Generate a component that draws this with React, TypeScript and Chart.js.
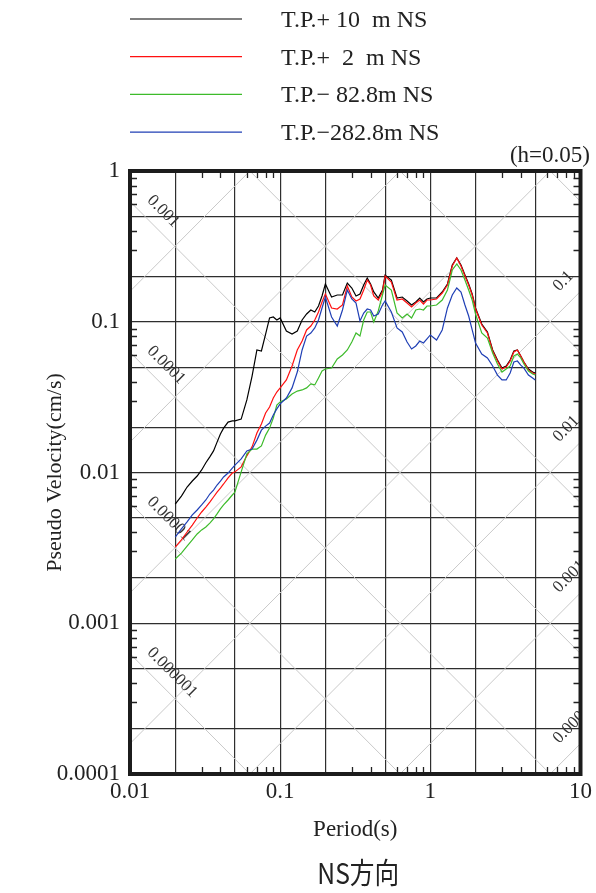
import React, { useEffect, useRef } from 'react';
import { Chart, registerables } from 'chart.js';

Chart.register(...registerables);

// ---------- data ----------
const periods = [
  0.02, 0.022, 0.024, 0.026, 0.028, 0.03, 0.032, 0.034, 0.036, 0.038, 0.04, 0.042, 0.045, 0.048, 0.05,
  0.055, 0.06, 0.065, 0.07, 0.075, 0.08, 0.085, 0.09, 0.095, 0.1,
  0.11, 0.12, 0.13, 0.14, 0.15, 0.16, 0.17, 0.18, 0.19,
  0.2, 0.22, 0.24, 0.26, 0.28, 0.3, 0.32, 0.34, 0.36, 0.38,
  0.4, 0.42, 0.45, 0.48, 0.5,
  0.55, 0.6, 0.65, 0.7, 0.75, 0.8, 0.85, 0.9, 0.95,
  1.0, 1.1, 1.2, 1.3, 1.4, 1.5, 1.6, 1.7, 1.8, 1.9,
  2.0, 2.2, 2.4, 2.6, 2.8, 3.0, 3.2, 3.4, 3.6, 3.8,
  4.0, 4.2, 4.5, 4.8, 5.0,
];

const tpPlus10 = [
  0.00618, 0.00698, 0.00801, 0.00878, 0.00948, 0.0104, 0.0116, 0.0127, 0.0139, 0.0159, 0.018, 0.0197, 0.0216, 0.022, 0.022,
  0.0226, 0.0303, 0.0436, 0.065, 0.064, 0.0829, 0.106, 0.1075, 0.1027, 0.106,
  0.0868, 0.0829, 0.0868, 0.1027, 0.1126, 0.1197, 0.1161, 0.1272, 0.1482,
  0.178, 0.1459, 0.1505, 0.1505, 0.1807, 0.1675, 0.1482, 0.1528, 0.1753, 0.1951,
  0.178, 0.1576, 0.1437, 0.1624, 0.2042,
  0.1891, 0.1437, 0.1459, 0.1373, 0.1292, 0.1352, 0.1437, 0.1352, 0.1416,
  0.1437, 0.1437, 0.1576, 0.178, 0.2379, 0.2648, 0.2379, 0.2042, 0.178, 0.1528,
  0.1234, 0.0966, 0.0855, 0.065, 0.0557, 0.0493, 0.0509, 0.0557, 0.064, 0.065,
  0.0593, 0.0541, 0.0486, 0.0464, 0.0457,
];

const tpPlus2 = [
  0.0032, 0.00357, 0.00403, 0.00448, 0.00499, 0.00547, 0.0059, 0.00637, 0.00688, 0.00742, 0.00789, 0.00839, 0.0092, 0.00992, 0.0101,
  0.0109, 0.0129, 0.0148, 0.0183, 0.021, 0.0248, 0.0272, 0.0312, 0.0342, 0.0364,
  0.0411, 0.0509, 0.065, 0.0745, 0.0882, 0.0937, 0.1027, 0.1161, 0.1352,
  0.1528, 0.1234, 0.1215, 0.1292, 0.1726, 0.1459, 0.1373, 0.1416, 0.1624, 0.1891,
  0.1753, 0.1482, 0.1394, 0.1576, 0.2011,
  0.1835, 0.1394, 0.1416, 0.1331, 0.1253, 0.1331, 0.1394, 0.1311, 0.1394,
  0.1394, 0.1416, 0.1551, 0.1753, 0.2343, 0.2648, 0.2343, 0.2011, 0.1753, 0.1505,
  0.1215, 0.0951, 0.0842, 0.064, 0.0549, 0.0486, 0.0501, 0.0549, 0.063, 0.065,
  0.0593, 0.0541, 0.0479, 0.0457, 0.045,
];

const tpMinus82 = [
  0.00267, 0.00292, 0.00325, 0.00357, 0.00391, 0.00416, 0.00435, 0.00462, 0.00492, 0.00531, 0.00573, 0.00609, 0.00657, 0.00709, 0.00742,
  0.0101, 0.0133, 0.0143, 0.0143, 0.015, 0.0177, 0.0197, 0.023, 0.028, 0.0294,
  0.0307, 0.0332, 0.0347, 0.0353, 0.0364, 0.0387, 0.0381, 0.0424, 0.0471,
  0.0486, 0.0493, 0.0566, 0.0602, 0.065, 0.0734, 0.0842, 0.0804, 0.1027, 0.1161,
  0.1161, 0.0996, 0.1178, 0.1505, 0.1753,
  0.1624, 0.1143, 0.1059, 0.1126, 0.1059, 0.1197, 0.1215, 0.1197, 0.1272,
  0.1272, 0.1292, 0.1394, 0.1624, 0.2204, 0.2416, 0.2204, 0.1891, 0.1624, 0.1394,
  0.1126, 0.0842, 0.078, 0.062, 0.0524, 0.0464, 0.0486, 0.0509, 0.0593, 0.0611,
  0.0575, 0.0524, 0.0471, 0.045, 0.0443,
];

const tpMinus282 = [
  0.00373, 0.00422, 0.0047, 0.00523, 0.00564, 0.00609, 0.00657, 0.0072, 0.00765, 0.00826, 0.00878, 0.00934, 0.00992, 0.0107, 0.0112,
  0.0123, 0.0139, 0.0143, 0.0164, 0.0191, 0.0203, 0.0213, 0.0241, 0.0264, 0.0285,
  0.0312, 0.0364, 0.0464, 0.065, 0.0804, 0.0842, 0.0909, 0.1027, 0.1234,
  0.1459, 0.1075, 0.0937, 0.1197, 0.1624, 0.1416, 0.1331, 0.1012, 0.1143, 0.1215,
  0.1197, 0.1092, 0.1126, 0.1292, 0.1373,
  0.1161, 0.0909, 0.0855, 0.0734, 0.066, 0.0691, 0.0745, 0.0723, 0.0769,
  0.0817, 0.0757, 0.0882, 0.1234, 0.1505, 0.1675, 0.1576, 0.1292, 0.1092, 0.0882,
  0.0723, 0.0611, 0.0575, 0.0509, 0.0443, 0.0411, 0.0411, 0.0457, 0.0541, 0.0549,
  0.0516, 0.0493, 0.0443, 0.0424, 0.0411,
];

const seriesLabels = ['T.P.+ 10  m NS', 'T.P.+  2  m NS', 'T.P.\u2212 82.8m NS', 'T.P.\u2212282.8m NS'];
const seriesColors = ['#000000', '#ff1010', '#3dbb2b', '#1f3fb5'];
const seriesValues = [tpPlus10, tpPlus2, tpMinus82, tpMinus282];

const xTickValues = [0.01, 0.02, 0.05, 0.1, 0.2, 0.5, 1, 2, 5, 10];
const yTickValues = [0.0001, 0.0002, 0.0005, 0.001, 0.002, 0.005, 0.01, 0.02, 0.05, 0.1, 0.2, 0.5, 1];
const xMinorTicks = [
  0.03, 0.04, 0.06, 0.07, 0.08, 0.09, 0.3, 0.4, 0.6, 0.7, 0.8, 0.9, 3, 4, 6, 7, 8, 9,
];
const yMinorTicks = [
  0.0003, 0.0004, 0.0006, 0.0007, 0.0008, 0.0009, 0.003, 0.004, 0.006, 0.007, 0.008, 0.009,
  0.03, 0.04, 0.06, 0.07, 0.08, 0.09, 0.3, 0.4, 0.6, 0.7, 0.8, 0.9,
];

// tripartite guide lines: displacement (cm) and acceleration (cm/s^2)
const dispLineValues = [1e-6, 1e-5, 1e-4, 1e-3, 1e-2, 1e-1, 1];
const accLineValues = [1e-4, 1e-3, 1e-2, 1e-1, 1, 10, 100];
const dispLabelValues = [0.001, 0.0001, 0.00001, 0.000001];
const dispLabels = ['0.001', '0.0001', '0.00001', '0.000001'];
const accLabelValues = [0.1, 0.01, 0.001, 0.0001];
const accLabels = ['0.1', '0.01', '0.001', '0.0001'];

const dampingText = '(h=0.05)';
const xTitle = 'Period(s)';
const yTitle = 'Pseudo Velocity(cm/s)';
const chartTitle = 'NS方向';

const SERIF = "'Liberation Serif', 'Times New Roman', serif";
const TEXT = '#222222';

const isDecade = (v: number) => Math.abs(Math.log10(v) - Math.round(Math.log10(v))) < 1e-9;

const overlayPlugin = {
  id: 'tripartiteOverlay',
  beforeDatasetsDraw(chart: any) {
    const { ctx, chartArea: a, scales } = chart;
    const xs = scales.x;
    const ys = scales.y;
    const TWO_PI = 2 * Math.PI;
    const tA = 0.001;
    const tB = 100;

    ctx.save();
    ctx.beginPath();
    ctx.rect(a.left, a.top, a.right - a.left, a.bottom - a.top);
    ctx.clip();

    // diagonal guide lines
    ctx.strokeStyle = '#c9c9c9';
    ctx.lineWidth = 1;
    for (const sd of dispLineValues) {
      ctx.beginPath();
      ctx.moveTo(xs.getPixelForValue(tA), ys.getPixelForValue((TWO_PI * sd) / tA));
      ctx.lineTo(xs.getPixelForValue(tB), ys.getPixelForValue((TWO_PI * sd) / tB));
      ctx.stroke();
    }
    for (const acc of accLineValues) {
      ctx.beginPath();
      ctx.moveTo(xs.getPixelForValue(tA), ys.getPixelForValue((acc * tA) / TWO_PI));
      ctx.lineTo(xs.getPixelForValue(tB), ys.getPixelForValue((acc * tB) / TWO_PI));
      ctx.stroke();
    }

    // diagonal labels
    const r = Math.SQRT1_2;
    ctx.fillStyle = '#333333';
    ctx.font = `17px ${SERIF}`;
    ctx.textBaseline = 'alphabetic';
    ctx.textAlign = 'left';
    dispLabelValues.forEach((sd, i) => {
      const px = a.left + 8;
      const t = xs.getValueForPixel(px);
      const py = ys.getPixelForValue((TWO_PI * sd) / t);
      ctx.save();
      ctx.translate(px + r * 12, py - r * 12);
      ctx.rotate(Math.PI / 4);
      ctx.fillText(dispLabels[i], 0, 0);
      ctx.restore();
    });
    accLabelValues.forEach((acc, i) => {
      const px = a.right - 11;
      const t = xs.getValueForPixel(px);
      const py = ys.getPixelForValue((acc * t) / TWO_PI);
      ctx.save();
      ctx.translate(px - r * 15, py - r * 15);
      ctx.rotate(-Math.PI / 4);
      ctx.fillText(accLabels[i], 0, 0);
      ctx.restore();
    });
    ctx.restore();

    // inner minor ticks
    ctx.save();
    ctx.strokeStyle = '#222222';
    ctx.lineWidth = 1.3;
    const len = 7;
    ctx.beginPath();
    for (const v of xMinorTicks) {
      const x = Math.round(xs.getPixelForValue(v)) + 0.5;
      ctx.moveTo(x, a.top);
      ctx.lineTo(x, a.top + len);
      ctx.moveTo(x, a.bottom);
      ctx.lineTo(x, a.bottom - len);
    }
    for (const v of yMinorTicks) {
      const y = Math.round(ys.getPixelForValue(v)) + 0.5;
      ctx.moveTo(a.left, y);
      ctx.lineTo(a.left + len, y);
      ctx.moveTo(a.right, y);
      ctx.lineTo(a.right - len, y);
    }
    ctx.stroke();
    ctx.restore();
  },
  afterDatasetsDraw(chart: any) {
    const { ctx, chartArea: a } = chart;
    ctx.save();
    ctx.strokeStyle = '#1c1c1c';
    ctx.lineWidth = 4;
    ctx.strokeRect(a.left, a.top, a.right - a.left, a.bottom - a.top);
    ctx.restore();
  },
  afterDraw(chart: any) {
    const { ctx, chartArea: a, data } = chart;
    ctx.save();
    // legend
    ctx.font = `24px ${SERIF}`;
    ctx.textAlign = 'left';
    ctx.textBaseline = 'alphabetic';
    data.datasets.forEach((ds: any, i: number) => {
      const y = 19 + i * 37.7;
      ctx.strokeStyle = ds.borderColor;
      ctx.lineWidth = 1.2;
      ctx.beginPath();
      ctx.moveTo(a.left, y);
      ctx.lineTo(a.left + 112, y);
      ctx.stroke();
      ctx.fillStyle = TEXT;
      ctx.fillText(ds.label, a.left + 151, y + 8);
    });
    // damping
    ctx.font = `23px ${SERIF}`;
    ctx.textAlign = 'right';
    ctx.fillText(dampingText, 590, a.top - 9);
    // bottom title
    ctx.font = `29px 'Noto Sans CJK JP', 'Noto Sans CJK SC', sans-serif`;
    ctx.textAlign = 'center';
    ctx.textBaseline = 'middle';
    ctx.translate((a.left + a.right) / 2 + 3, 873);
    ctx.scale(0.85, 1);
    ctx.fillText(chartTitle, 0, 0);
    ctx.restore();
  },
};

export default function App() {
  const ref = useRef<HTMLCanvasElement>(null);

  useEffect(() => {
    document.body.style.margin = '0';
    const canvas = ref.current;
    if (!canvas) return;

    const datasets = seriesValues.map((vals, i) => ({
      label: seriesLabels[i],
      data: periods.map((p, j) => ({ x: p, y: vals[j] })),
      borderColor: seriesColors[i],
      backgroundColor: seriesColors[i],
      borderWidth: 1.2,
      pointRadius: 0,
      tension: 0,
      fill: false,
      order: 4 - i,
    }));

    const chart = new Chart(canvas, {
      type: 'line',
      data: { datasets },
      options: {
        responsive: false,
        animation: false,
        devicePixelRatio: 1,
        layout: { padding: { left: 0, right: 14, top: 171, bottom: 0 } },
        plugins: {
          legend: { display: false },
          title: { display: false },
          tooltip: { enabled: false },
        },
        scales: {
          x: {
            type: 'logarithmic',
            min: 0.01,
            max: 10,
            afterBuildTicks: (scale: any) => {
              scale.ticks = xTickValues.map((v) => ({ value: v }));
            },
            afterFit: (scale: any) => {
              scale.height = 119;
            },
            ticks: {
              autoSkip: false,
              maxRotation: 0,
              minRotation: 0,
              padding: 4,
              color: TEXT,
              font: { family: SERIF, size: 23 },
              callback: (v: any) => (isDecade(Number(v)) ? String(Number(v)) : ''),
            },
            grid: { color: '#2e2e2e', lineWidth: 1.2, drawTicks: false },
            border: { display: false },
            title: {
              display: true,
              text: xTitle,
              color: TEXT,
              font: { family: SERIF, size: 23 },
              padding: { top: 0, bottom: 49 },
            },
          },
          y: {
            type: 'logarithmic',
            min: 0.0001,
            max: 1,
            afterBuildTicks: (scale: any) => {
              scale.ticks = yTickValues.map((v) => ({ value: v }));
            },
            afterFit: (scale: any) => {
              scale.width = 130;
            },
            ticks: {
              autoSkip: false,
              padding: 10,
              color: TEXT,
              font: { family: SERIF, size: 23 },
              callback: (v: any) => (isDecade(Number(v)) ? String(Number(v)) : ''),
            },
            grid: { color: '#2e2e2e', lineWidth: 1.2, drawTicks: false },
            border: { display: false },
            title: {
              display: true,
              text: yTitle,
              color: TEXT,
              font: { family: SERIF, size: 22 },
              padding: { top: 42, bottom: 0 },
            },
          },
        },
      },
      plugins: [overlayPlugin],
    } as any);

    return () => chart.destroy();
  }, []);

  return (
    <canvas
      ref={ref}
      width={596}
      height={893}
      style={{ display: 'block', width: '596px', height: '893px' }}
    />
  );
}
